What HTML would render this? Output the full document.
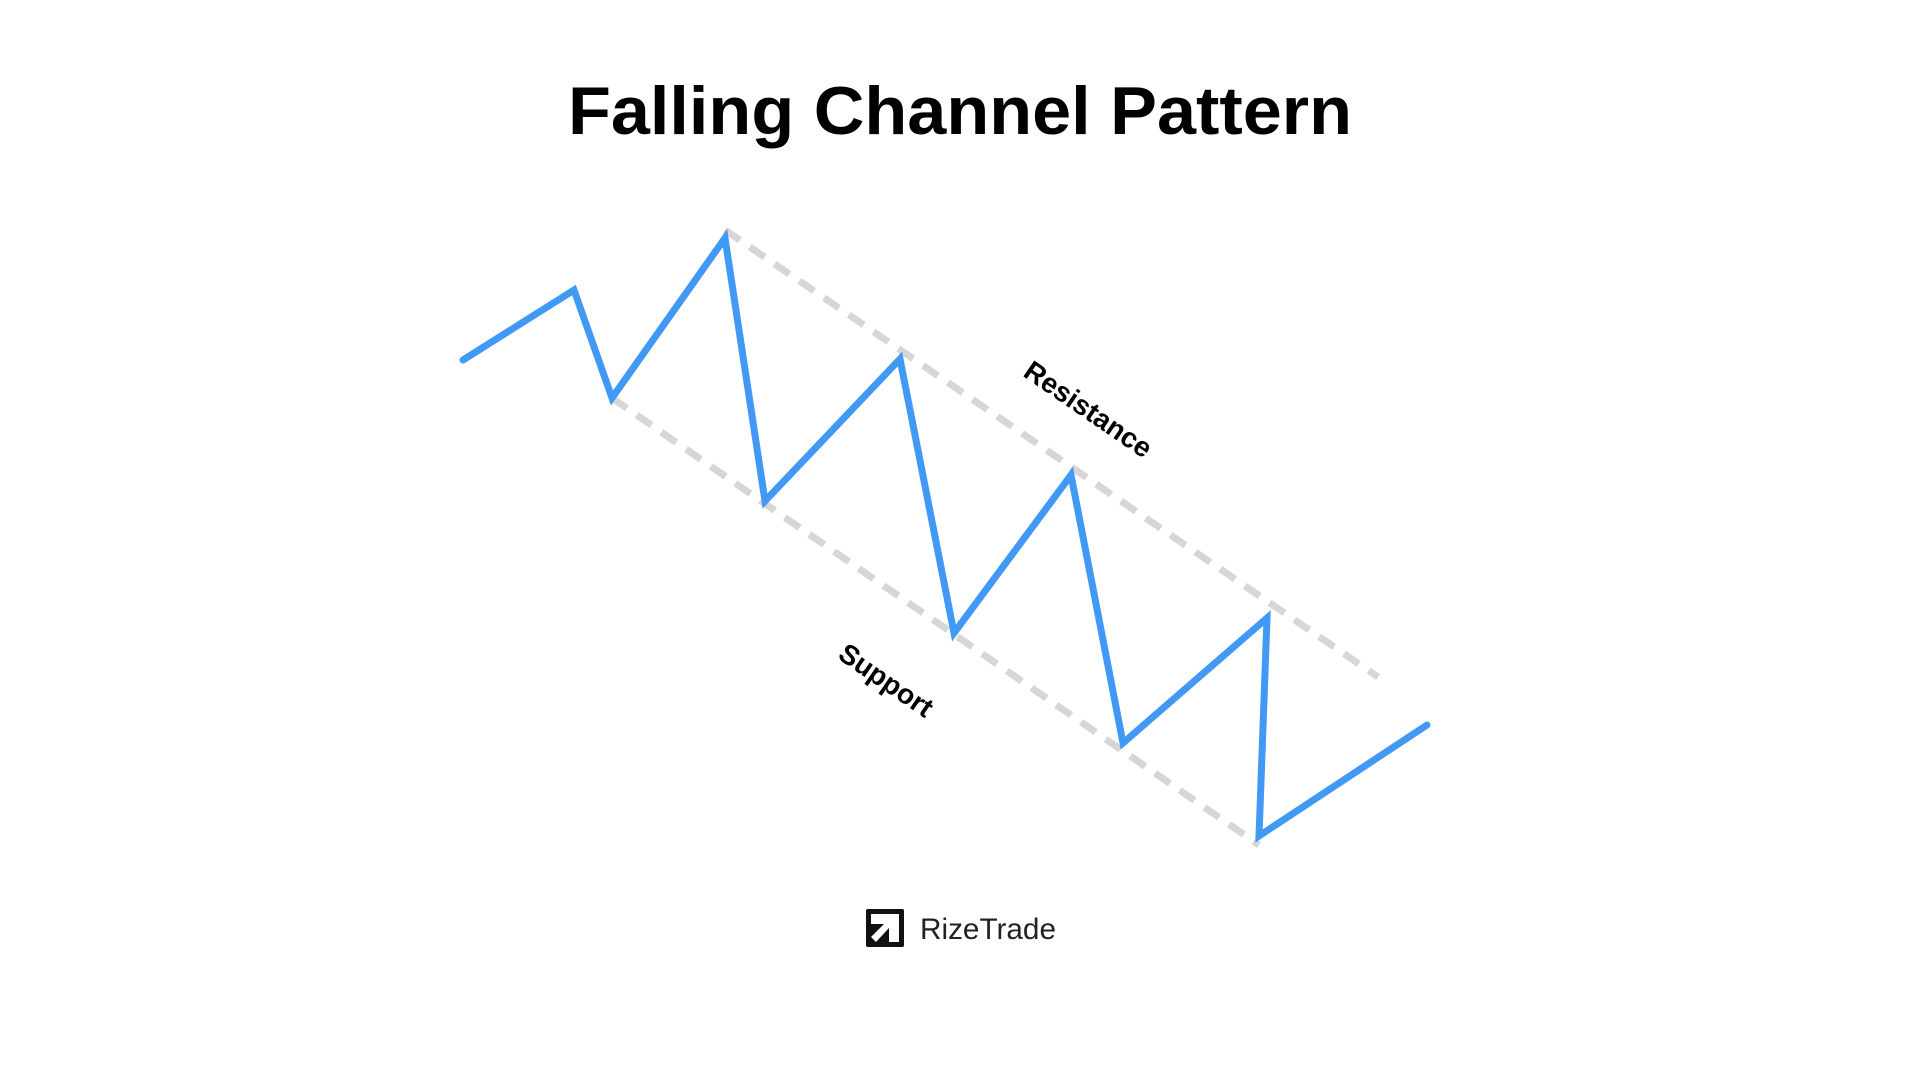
<!DOCTYPE html>
<html><head><meta charset="utf-8"><style>
html,body{margin:0;padding:0;background:#fff;width:1920px;height:1080px;overflow:hidden}
</style></head><body>
<svg width="1920" height="1080" viewBox="0 0 1920 1080" xmlns="http://www.w3.org/2000/svg">
<rect width="1920" height="1080" fill="#fff"/>
<text x="960" y="134" text-anchor="middle" font-family="Liberation Sans, sans-serif" font-weight="bold" font-size="68" textLength="784" lengthAdjust="spacingAndGlyphs" fill="#000">Falling Channel Pattern</text>
<g stroke="#d6d6d6" stroke-width="7" stroke-dasharray="18 12" fill="none">
<line x1="725" y1="230" x2="1378" y2="677"/>
<line x1="612" y1="398" x2="1259" y2="845"/>
</g>
<polyline points="463,360 574,290 612,398 725,238 765,501 900,359 954,633 1071,475 1123,743 1267,618 1259,836 1427,725" fill="none" stroke="#4199f5" stroke-width="7" stroke-linejoin="miter" stroke-linecap="round"/>
<text transform="translate(1087,411) rotate(34.4)" text-anchor="middle" dominant-baseline="middle" font-family="Liberation Sans, sans-serif" font-weight="bold" font-size="28" fill="#000">Resistance</text>
<text transform="translate(885,682) rotate(34.4)" text-anchor="middle" dominant-baseline="middle" font-family="Liberation Sans, sans-serif" font-weight="bold" font-size="28" fill="#000">Support</text>
<g>
<rect x="866" y="909" width="38" height="38" rx="2" fill="#111"/>
<polygon points="871,914 899,914 899,942 889,942 889,928 876,942 871,937 884,924 871,924" fill="#fff"/>
</g>
<text x="920" y="939" font-family="Liberation Sans, sans-serif" font-size="30" fill="#222" textLength="136" lengthAdjust="spacingAndGlyphs">RizeTrade</text>
</svg>
</body></html>
